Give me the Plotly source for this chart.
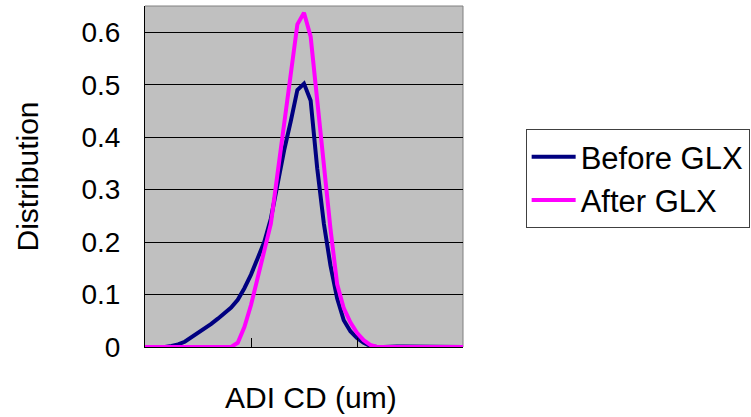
import plotly.graph_objects as go

# category index (49 evenly spaced points along the CD axis)
x_idx = list(range(49))

before_glx = [0, 0, 0, 0, 0.002, 0.005, 0.010, 0.018, 0.026, 0.035,
              0.044, 0.054, 0.064, 0.075, 0.090, 0.112, 0.138, 0.170, 0.200, 0.245,
              0.315, 0.375, 0.430, 0.490, 0.502, 0.470, 0.340, 0.235, 0.155, 0.093,
              0.051, 0.030, 0.017, 0.008, 0.002, 0, 0, 0.001, 0.001, 0.001,
              0.001, 0, 0, 0, 0, 0, 0, 0, 0]

after_glx = [0, 0, 0, 0, 0, 0, 0, 0, 0, 0,
             0, 0, 0, 0, 0.008, 0.038, 0.080, 0.130, 0.180, 0.235,
             0.330, 0.420, 0.520, 0.615, 0.637, 0.592, 0.470, 0.330, 0.225, 0.120,
             0.074, 0.047, 0.027, 0.013, 0.004, 0, 0, 0, 0, 0,
             0, 0, 0, 0, 0, 0, 0, 0, 0]

y_ticks = [0, 0.1, 0.2, 0.3, 0.4, 0.5, 0.6]
y_tick_labels = ["0", "0.1", "0.2", "0.3", "0.4", "0.5", "0.6"]
x_ticks = [16, 32]

FONT = "Liberation Sans, Arial, sans-serif"

fig = go.Figure()
fig.add_trace(go.Scatter(x=x_idx, y=before_glx, mode="lines", name="Before GLX",
                         line=dict(color="#000080", width=4), legendgroup="a"))
fig.add_trace(go.Scatter(x=x_idx, y=after_glx, mode="lines", name="After GLX",
                         line=dict(color="#FF00FF", width=4), legendgroup="b"))

fig.update_layout(
    width=751, height=417,
    margin=dict(l=145, r=288, t=6, b=70, autoexpand=False),
    paper_bgcolor="white",
    plot_bgcolor="#C0C0C0",
    font=dict(family=FONT, size=28, color="black"),
    showlegend=True,
    legend=dict(
        x=1.197, y=0.639, xanchor="left", yanchor="top",
        bordercolor="#404040", borderwidth=1, bgcolor="white",
        font=dict(size=31), traceorder="grouped", tracegroupgap=0,
        itemwidth=44,
    ),
    xaxis=dict(
        range=[0, 48], showgrid=False, zeroline=False,
        tickvals=x_ticks, ticktext=["", ""], ticks="inside", ticklen=9,
        tickcolor="black", showline=True, linecolor="black", linewidth=1,
        mirror=False,
    ),
    yaxis=dict(
        range=[0, 0.65], tickvals=y_ticks, ticktext=y_tick_labels,
        showgrid=True, gridcolor="black", gridwidth=1, zeroline=False,
        ticks="inside", ticklen=8, tickcolor="black",
        showline=True, linecolor="black", linewidth=1,
        tickfont=dict(size=28), ticklabelstandoff=18,
    ),
    annotations=[
        dict(text="ADI CD (um)", xref="paper", yref="paper", x=0.5, y=-0.147,
             xanchor="center", yanchor="middle", showarrow=False,
             font=dict(size=30), xshift=7),
        dict(text="Distribution", xref="paper", yref="paper", x=0, y=0.5,
             xanchor="center", yanchor="middle", showarrow=False, textangle=-90,
             font=dict(size=30), xshift=-118),
    ],
    shapes=[
        dict(type="line", xref="paper", yref="paper", x0=0, x1=1, y0=1, y1=1,
             line=dict(color="#808080", width=1), layer="below"),
        dict(type="line", xref="paper", yref="paper", x0=1, x1=1, y0=0, y1=1,
             line=dict(color="#808080", width=1), layer="below"),
    ],
)

fig.write_html("out.html", config={"displayModeBar": False},
               post_script="document.body.style.margin='0';")
